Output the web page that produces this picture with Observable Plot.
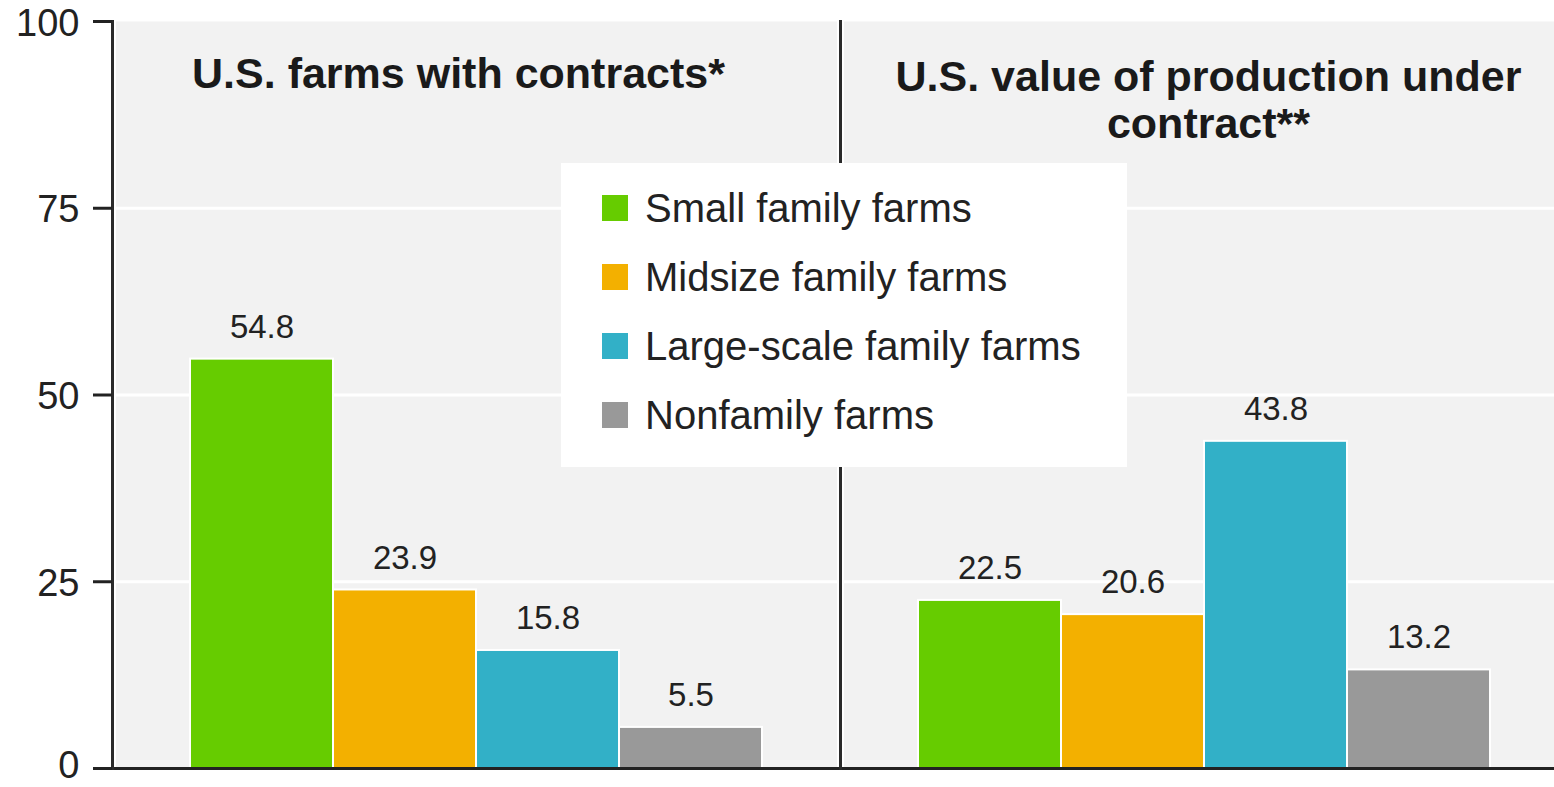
<!DOCTYPE html>
<html><head><meta charset="utf-8">
<script src="https://cdn.jsdelivr.net/npm/d3@7"></script>
<script src="https://cdn.jsdelivr.net/npm/@observablehq/plot@0.6"></script>
<style>
html,body{margin:0;padding:0;background:#fff;overflow:hidden;}
#wrap{position:relative;width:1554px;height:787px;overflow:hidden;}
#wrap svg{display:block;max-width:none !important;width:1568px;height:787px;}
#legend{position:absolute;left:561px;top:163px;width:566px;height:304px;background:#fff;font-family:"Liberation Sans",Arial,sans-serif;font-size:40px;color:#222;}
.row{position:absolute;left:41px;height:46px;display:flex;align-items:center;white-space:nowrap;}
.sw{width:26px;height:26px;margin-right:17px;flex:none;}
</style></head><body><div id="wrap"></div>
<script>
const panelKeys = ["farms", "value"];
const panelTitles = ["U.S. farms with contracts*", "U.S. value of production under\ncontract**"];
const categories = ["Small family farms", "Midsize family farms", "Large-scale family farms", "Nonfamily farms"];
const farmsWithContracts = [54.8, 23.9, 15.8, 5.5];
const valueUnderContract = [22.5, 20.6, 43.8, 13.2];
const colors = ["#66cc00", "#f3b000", "#32b0c7", "#999999"];
const yTicks = [0, 25, 50, 75, 100];
const gridTicks = [25, 50, 75];

const series = [farmsWithContracts, valueUnderContract];
const data = panelKeys.flatMap((p, i) => categories.map((c, j) => ({panel: p, category: c, value: series[i][j]})));
const titleOf = Object.fromEntries(panelKeys.map((k, i) => [k, panelTitles[i]]));
const font = '"Liberation Sans", Arial, sans-serif';
const labelOpts = {tickSize: 0, tickPadding: 33, fontSize: 38, fill: "#222", label: null};

const plot = Plot.plot({
  width: 1568,
  height: 787,
  marginTop: 21,
  marginBottom: 19,
  marginLeft: 112,
  marginRight: 0,
  style: {fontFamily: font, color: "#222", background: "transparent", maxWidth: "none"},
  fx: {domain: panelKeys, padding: 0, axis: null},
  x: {domain: categories, paddingInner: 0, paddingOuter: 0.54, axis: null},
  y: {domain: [0, 100]},
  color: {domain: categories, range: colors},
  marks: [
    Plot.frame({fill: "#f2f2f2", stroke: null}),
    Plot.ruleY(gridTicks, {stroke: "#fff", strokeWidth: 3}),
    Plot.frame({anchor: "left", stroke: "#fff", strokeWidth: 7}),
    Plot.barY(data, {fx: "panel", x: "category", y: "value", fill: "category", stroke: "#fff", strokeWidth: 2}),
    Plot.text(data, {fx: "panel", x: "category", y: "value", text: d => d.value.toFixed(1), dy: -32, lineAnchor: "middle", fontSize: 33, fill: "#222"}),
    Plot.ruleY([0], {stroke: "#222", strokeWidth: 3}),
    Plot.frame({anchor: "left", stroke: "#2a2a2a", strokeWidth: 3}),
    Plot.axisY(yTicks, {tickSize: 19, strokeWidth: 3, stroke: "#222", tickFormat: () => "", label: null}),
    Plot.axisY(yTicks.filter(t => t > 0), {...labelOpts, dy: 2}),
    Plot.axisY(yTicks.filter(t => t === 0), {...labelOpts, dy: -3}),
    Plot.text([panelKeys[0]], {fx: d => d, text: d => titleOf[d], frameAnchor: "top", lineAnchor: "top", dy: 36, dx: -18, fontSize: 43, fontWeight: "bold", fill: "#1a1a1a"}),
    Plot.text([panelKeys[1]], {fx: d => d, text: d => titleOf[d], frameAnchor: "top", lineAnchor: "top", dy: 36, dx: 4, fontSize: 43, fontWeight: "bold", lineHeight: 1.09, fill: "#1a1a1a"})
  ]
});
const wrap = document.getElementById("wrap");
wrap.appendChild(plot);

const legend = document.createElement("div");
legend.id = "legend";
categories.forEach((c, i) => {
  const row = document.createElement("div");
  row.className = "row";
  row.style.top = (45 + i * 69 - 23) + "px";
  const sw = document.createElement("span");
  sw.className = "sw";
  sw.style.background = colors[i];
  const t = document.createElement("span");
  t.textContent = c;
  row.appendChild(sw);
  row.appendChild(t);
  legend.appendChild(row);
});
wrap.appendChild(legend);
</script>
</body></html>
